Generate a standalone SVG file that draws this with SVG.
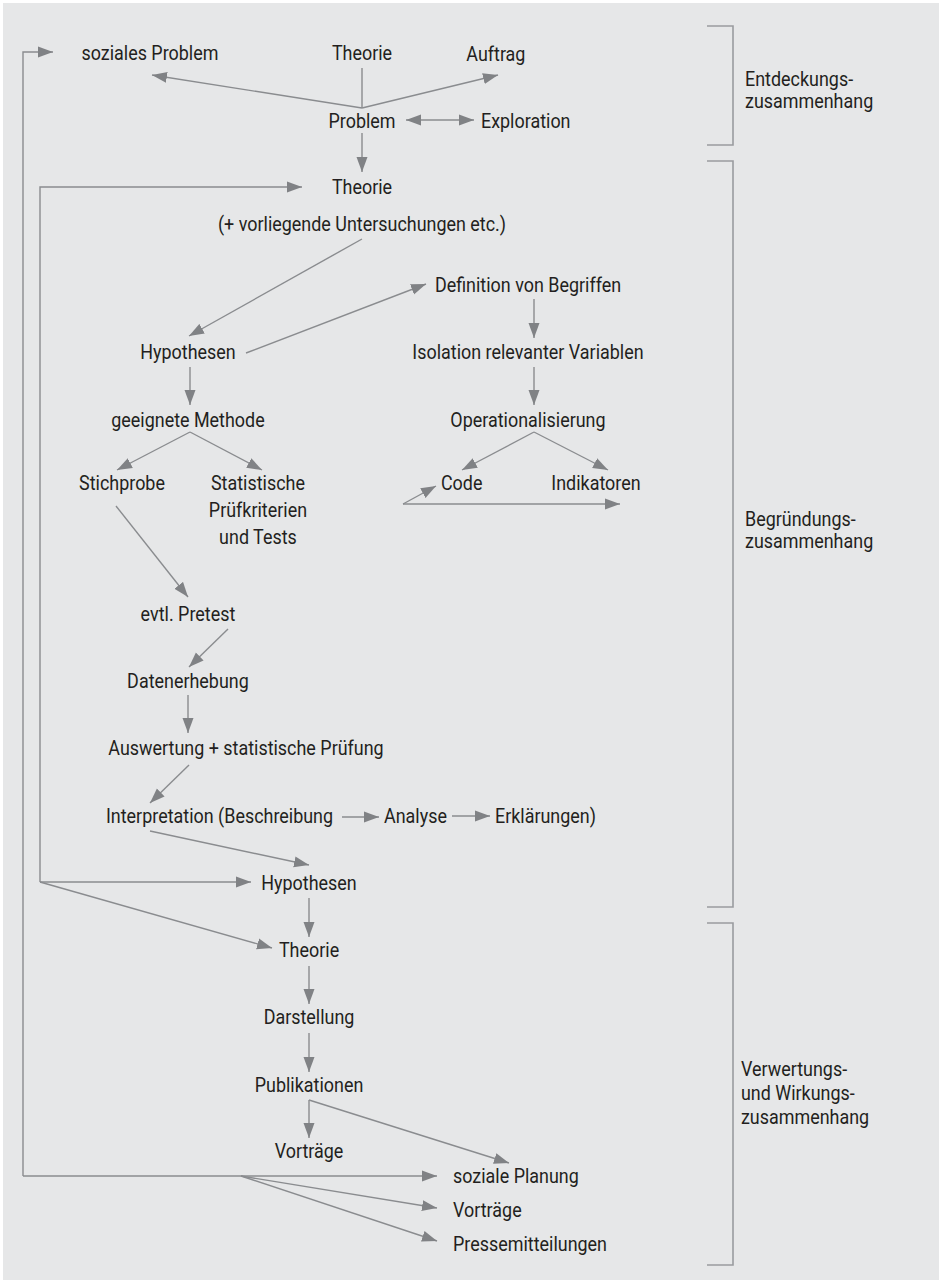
<svg xmlns="http://www.w3.org/2000/svg" width="939" height="1282" viewBox="0 0 939 1282">
<style>
text{font-family:Roboto,"Liberation Sans",sans-serif;font-size:19.5px;fill:#231f20}
.m{text-anchor:middle}
.c{fill:none;stroke:#8a8c8f;stroke-width:1.4}
.b{fill:none;stroke:#9a9c9f;stroke-width:1.6}
</style>
<defs>
<marker id="ah" markerUnits="userSpaceOnUse" markerWidth="16" markerHeight="12" refX="15" refY="5.5" orient="auto-start-reverse" viewBox="0 0 16 11">
<path d="M0,0 L15,5.5 L0,11 z" fill="#808285"/>
</marker>
</defs>
<rect x="3" y="3" width="936" height="1277" fill="#e6e7e8"/>
<g id="brackets">
<path class="b" d="M707,26 H733 V145 H707"/>
<path class="b" d="M707,161 H733 V907 H707"/>
<path class="b" d="M707,923 H733 V1265 H707"/>
</g>
<g id="connectors" marker-end="url(#ah)">
<path class="c" d="M362,68 V108" marker-end="none"/>
<path class="c" d="M362,108 L152,75"/>
<path class="c" d="M362,108 L498,75"/>
<path class="c" d="M406,120 H474" marker-start="url(#ah)"/>
<path class="c" d="M362,133 V172"/>
<path class="c" d="M40,882 V187 H302"/>
<path class="c" d="M40,882 H251"/>
<path class="c" d="M40,882 L272,948"/>
<path class="c" d="M23,1176 V52 H53"/>
<path class="c" d="M23,1176 H437"/>
<path class="c" d="M241,1176 L437,1208"/>
<path class="c" d="M241,1176 L437,1241"/>
<path class="c" d="M362,239 L189,336"/>
<path class="c" d="M246,353 L426,284"/>
<path class="c" d="M534,299 V338"/>
<path class="c" d="M534,367 V405"/>
<path class="c" d="M534,432 L462,470"/>
<path class="c" d="M534,432 L608,470"/>
<path class="c" d="M403,504 L436,486"/>
<path class="c" d="M403,504 H620"/>
<path class="c" d="M190,367 V405"/>
<path class="c" d="M190,432 L117,470"/>
<path class="c" d="M190,432 L262,470"/>
<path class="c" d="M116,506 L188,597"/>
<path class="c" d="M228,629 L189,667"/>
<path class="c" d="M188,695 V733"/>
<path class="c" d="M189,765 L150,803"/>
<path class="c" d="M342,817 H379"/>
<path class="c" d="M452,816 H490"/>
<path class="c" d="M150,831 L309,865"/>
<path class="c" d="M309,898 V937"/>
<path class="c" d="M309,966 V1004"/>
<path class="c" d="M309,1033 V1072"/>
<path class="c" d="M309,1100 V1138"/>
<path class="c" d="M309,1100 L509,1163"/>
</g>
<g id="labels" transform="scale(0.92,1)">
<g id="n-soziales-problem"><text class="m" x="163" y="60">soziales Problem</text></g>
<g id="n-theorie1"><text class="m" x="393.5" y="60">Theorie</text></g>
<g id="n-auftrag"><text class="m" x="539" y="61">Auftrag</text></g>
<g id="n-problem"><text class="m" x="393.5" y="128">Problem</text></g>
<g id="n-exploration"><text x="522.8" y="128">Exploration</text></g>
<g id="n-theorie2"><text class="m" x="393.5" y="194">Theorie</text><text class="m" x="393.5" y="231">(+ vorliegende Untersuchungen etc.)</text></g>
<g id="n-hypothesen1"><text class="m" x="204.3" y="359">Hypothesen</text></g>
<g id="n-definition"><text class="m" x="573.9" y="292">Definition von Begriffen</text></g>
<g id="n-isolation"><text class="m" x="573.9" y="359">Isolation relevanter Variablen</text></g>
<g id="n-operationalisierung"><text class="m" x="573.9" y="427">Operationalisierung</text></g>
<g id="n-code"><text x="479.3" y="490">Code</text></g>
<g id="n-indikatoren"><text class="m" x="647.8" y="490">Indikatoren</text></g>
<g id="n-methode"><text class="m" x="204.3" y="427">geeignete Methode</text></g>
<g id="n-stichprobe"><text class="m" x="132.6" y="490">Stichprobe</text></g>
<g id="n-statistische"><text class="m" x="280.4" y="490">Statistische</text><text class="m" x="280.4" y="517">Prüfkriterien</text><text class="m" x="280.4" y="544">und Tests</text></g>
<g id="n-pretest"><text class="m" x="204.3" y="621">evtl. Pretest</text></g>
<g id="n-datenerhebung"><text class="m" x="204.3" y="688">Datenerhebung</text></g>
<g id="n-auswertung"><text class="m" x="267.4" y="755">Auswertung + statistische Prüfung</text></g>
<g id="n-interpretation"><text x="115.2" y="823">Interpretation (Beschreibung</text></g>
<g id="n-analyse"><text x="417.4" y="823">Analyse</text></g>
<g id="n-erklaerungen"><text x="538" y="823">Erklärungen)</text></g>
<g id="n-hypothesen2"><text class="m" x="335.9" y="890">Hypothesen</text></g>
<g id="n-theorie3"><text class="m" x="335.9" y="957">Theorie</text></g>
<g id="n-darstellung"><text class="m" x="335.9" y="1024">Darstellung</text></g>
<g id="n-publikationen"><text class="m" x="335.9" y="1092">Publikationen</text></g>
<g id="n-vortraege1"><text class="m" x="335.9" y="1158">Vorträge</text></g>
<g id="n-soziale-planung"><text x="492.4" y="1183">soziale Planung</text></g>
<g id="n-vortraege2"><text x="492.4" y="1217">Vorträge</text></g>
<g id="n-pressemitteilungen"><text x="492.4" y="1251">Pressemitteilungen</text></g>
<g id="l-entdeckung"><text x="809.8" y="86">Entdeckungs-</text><text x="809.8" y="108">zusammenhang</text></g>
<g id="l-begruendung"><text x="809.8" y="526">Begründungs-</text><text x="809.8" y="548">zusammenhang</text></g>
<g id="l-verwertung"><text x="805.4" y="1076">Verwertungs-</text><text x="805.4" y="1100">und Wirkungs-</text><text x="805.4" y="1124">zusammenhang</text></g>
</g>
</svg>
